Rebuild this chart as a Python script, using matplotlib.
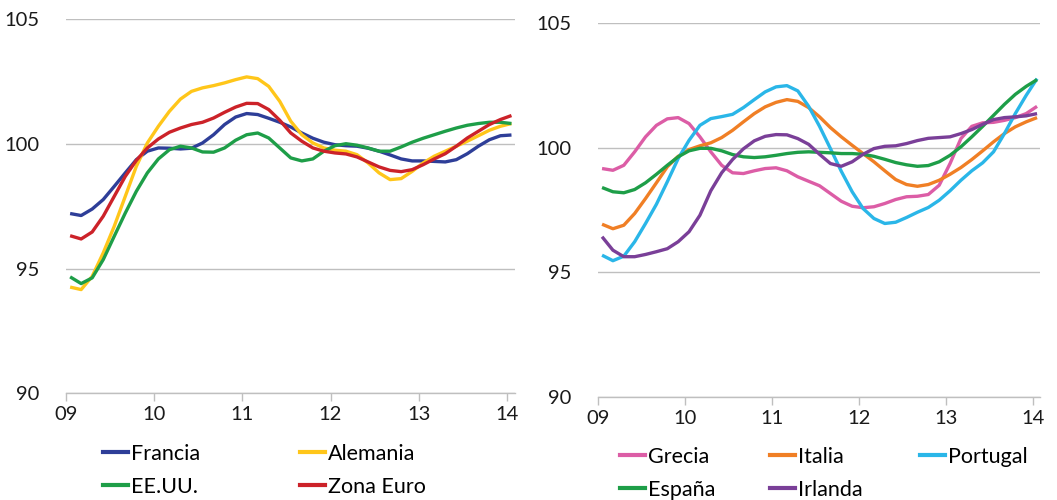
import matplotlib
matplotlib.use("Agg")
import matplotlib.pyplot as plt
from matplotlib.lines import Line2D

plt.rcParams['font.family'] = ['Lato', 'DejaVu Sans']

# time axis (years, 09 = 2009), sampled every 1.5 months
x = [9.05 + k * 0.125 for k in range(41)]
years = [9, 10, 11, 12, 13, 14]
year_labels = ['09', '10', '11', '12', '13', '14']

# left panel
francia = [97.21, 97.13, 97.39, 97.77, 98.30, 98.84, 99.37, 99.71, 99.84, 99.83,
           99.80, 99.83, 100.04, 100.37, 100.78, 101.08, 101.22, 101.18, 101.03, 100.87,
           100.68, 100.44, 100.23, 100.07, 99.97, 99.93, 99.91, 99.83, 99.71, 99.56,
           99.40, 99.32, 99.32, 99.30, 99.28, 99.37, 99.61, 99.91, 100.17, 100.33, 100.36]
alemania = [94.26, 94.16, 94.69, 95.63, 96.70, 97.90, 99.10, 100.04, 100.71, 101.31,
            101.80, 102.11, 102.25, 102.34, 102.45, 102.58, 102.69, 102.62, 102.31, 101.71,
            100.91, 100.37, 100.04, 99.84, 99.75, 99.71, 99.57, 99.24, 98.84, 98.57,
            98.61, 98.90, 99.24, 99.51, 99.71, 99.91, 100.11, 100.33, 100.55, 100.71, 100.82]
eeuu = [94.67, 94.40, 94.63, 95.36, 96.30, 97.23, 98.10, 98.84, 99.40, 99.77,
        99.91, 99.84, 99.68, 99.67, 99.84, 100.15, 100.37, 100.44, 100.24, 99.84,
        99.44, 99.32, 99.40, 99.71, 99.93, 100.01, 99.95, 99.84, 99.71, 99.71,
        99.88, 100.07, 100.23, 100.37, 100.51, 100.64, 100.75, 100.82, 100.87, 100.87, 100.82]
zona_euro = [96.32, 96.19, 96.47, 97.10, 97.90, 98.70, 99.34, 99.84, 100.20, 100.47,
             100.64, 100.78, 100.87, 101.04, 101.27, 101.48, 101.63, 101.62, 101.38, 100.95,
             100.44, 100.11, 99.84, 99.71, 99.64, 99.60, 99.48, 99.28, 99.08, 98.94,
             98.89, 98.97, 99.17, 99.40, 99.61, 99.91, 100.24, 100.51, 100.78, 100.98, 101.14]

# right panel
grecia = [99.16, 99.09, 99.29, 99.83, 100.43, 100.89, 101.15, 101.20, 100.96, 100.43,
          99.83, 99.29, 98.99, 98.96, 99.07, 99.16, 99.19, 99.07, 98.83, 98.65,
          98.47, 98.16, 97.85, 97.65, 97.59, 97.63, 97.76, 97.92, 98.03, 98.05,
          98.12, 98.49, 99.36, 100.36, 100.85, 100.99, 101.01, 101.09, 101.20, 101.36, 101.65]
italia = [96.93, 96.75, 96.89, 97.36, 97.96, 98.59, 99.23, 99.65, 99.92, 100.07,
          100.19, 100.40, 100.69, 101.03, 101.36, 101.63, 101.81, 101.92, 101.85, 101.60,
          101.23, 100.80, 100.43, 100.09, 99.76, 99.43, 99.07, 98.72, 98.52, 98.45,
          98.52, 98.69, 98.93, 99.20, 99.52, 99.87, 100.23, 100.56, 100.83, 101.03, 101.20]
portugal = [95.69, 95.47, 95.65, 96.23, 96.96, 97.73, 98.63, 99.56, 100.29, 100.89,
            101.16, 101.24, 101.33, 101.60, 101.92, 102.23, 102.43, 102.48, 102.27, 101.65,
            100.85, 99.96, 99.05, 98.23, 97.56, 97.16, 96.96, 97.01, 97.20, 97.41,
            97.60, 97.89, 98.27, 98.69, 99.07, 99.39, 99.83, 100.56, 101.36, 102.09, 102.76]
espana = [98.40, 98.23, 98.19, 98.32, 98.59, 98.93, 99.29, 99.63, 99.87, 99.97,
          99.97, 99.87, 99.72, 99.63, 99.60, 99.63, 99.69, 99.76, 99.81, 99.83,
          99.81, 99.79, 99.76, 99.76, 99.73, 99.65, 99.53, 99.40, 99.31, 99.25,
          99.28, 99.43, 99.69, 100.03, 100.43, 100.85, 101.29, 101.73, 102.13, 102.45, 102.72]
irlanda = [96.43, 95.89, 95.63, 95.63, 95.72, 95.83, 95.95, 96.23, 96.63, 97.29,
           98.27, 98.99, 99.52, 99.95, 100.27, 100.45, 100.52, 100.51, 100.36, 100.13,
           99.73, 99.36, 99.25, 99.43, 99.73, 99.96, 100.05, 100.07, 100.16, 100.28,
           100.37, 100.40, 100.43, 100.56, 100.72, 100.93, 101.12, 101.20, 101.23, 101.27, 101.36]

left_series = [('Francia', francia, '#2E3E98'), ('Alemania', alemania, '#FFC61A'),
               ('EE.UU.', eeuu, '#1E9E48'), ('Zona Euro', zona_euro, '#CC2229')]
right_series = [('Grecia', grecia, '#DC5DA6'), ('Italia', italia, '#F07F25'),
                ('Portugal', portugal, '#2AB6E8'), ('España', espana, '#1E9E48'),
                ('Irlanda', irlanda, '#7A3F98')]

W, H = 1057, 500
fig = plt.figure(figsize=(W / 100, H / 100), dpi=100)
ax1 = fig.add_axes([65.7 / W, 1 - 393.3 / H, (515 - 65.7) / W, (393.3 - 19.3) / H])
ax2 = fig.add_axes([597.7 / W, 1 - 397.3 / H, (1040 - 597.7) / W, (397.3 - 22.7) / H])


def style(ax, xmax):
    ax.set_xlim(9, xmax)
    ax.set_ylim(90, 105)
    ax.set_yticks([90, 95, 100, 105])
    ax.set_xticks(years)
    ax.set_xticklabels(year_labels)
    for s in ['top', 'right', 'left']:
        ax.spines[s].set_visible(False)
    ax.spines['bottom'].set_color('#BFBFBF')
    ax.spines['bottom'].set_linewidth(1)
    ax.grid(axis='y', color='#BFBFBF', linewidth=1)
    ax.set_axisbelow(True)
    ax.tick_params(axis='y', length=0, pad=19, labelsize=14.5, colors='#1a1a1a')
    ax.tick_params(axis='x', length=6, width=1, color='#BFBFBF', pad=3,
                   labelsize=14.5, labelcolor='#1a1a1a')


for name, vals, col in left_series:
    ax1.plot(x, vals, color=col, lw=2.4, label=name, solid_capstyle='butt')
for name, vals, col in right_series:
    ax2.plot(x, vals, color=col, lw=2.4, label=name, solid_capstyle='butt')
style(ax1, 14.09)
style(ax2, 14.084)


def column_legend(items, x_px, y_px):
    handles = [Line2D([], [], color=c, lw=3) for _, _, c in items]
    labels = [n for n, _, _ in items]
    fig.legend(handles, labels, loc='upper left', bbox_to_anchor=(x_px / W, 1 - y_px / H),
               frameon=False, borderpad=0, borderaxespad=0, handlelength=1.15,
               handletextpad=0.15, labelspacing=0.6, fontsize=15.5)


column_legend([left_series[0], left_series[2]], 103, 444)
column_legend([left_series[1], left_series[3]], 300, 444)
column_legend([right_series[0], right_series[3]], 620, 447)
column_legend([right_series[1], right_series[4]], 770, 447)
column_legend([right_series[2]], 920, 447)

fig.savefig('out.png', dpi=100)
